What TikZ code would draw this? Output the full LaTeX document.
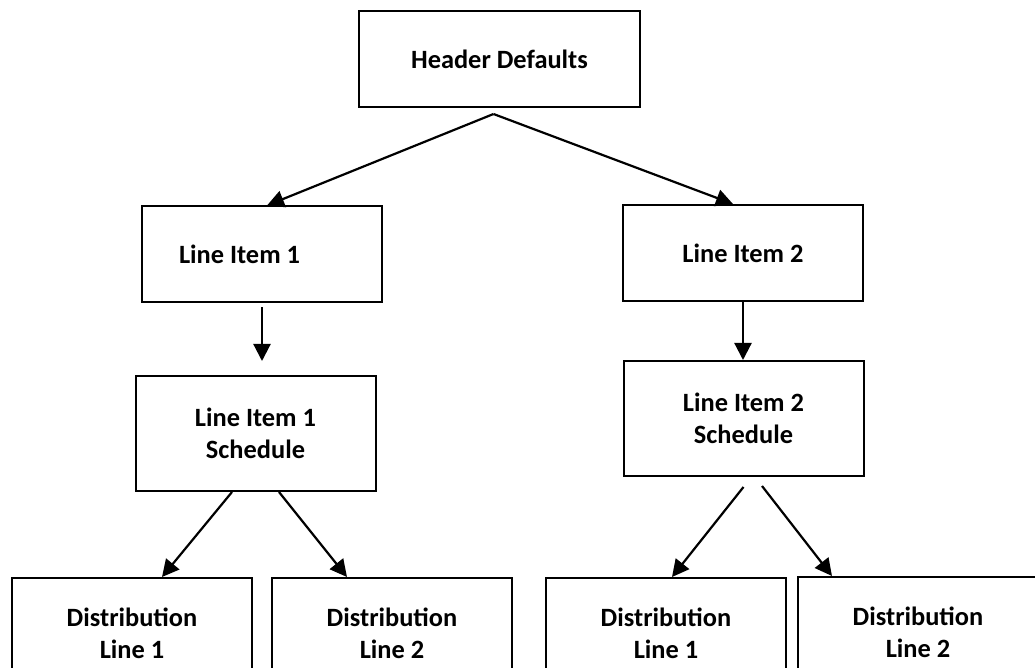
\documentclass[tikz,border=0pt]{standalone}
\usepackage{fontspec}
\setmainfont{Carlito}
\usepackage{tikz}
\usetikzlibrary{arrows.meta,calc}

\tikzset{
  itembox/.style={draw, line width=1pt, minimum width=120pt, minimum height=48pt,
    align=center, font=\fontsize{13.2}{16}\selectfont\bfseries},
  arr/.style={-{Triangle[length=8.5pt,width=8.5pt]}, line width=1.1pt}
}

\begin{document}
\begin{tikzpicture}[x=0.5pt, y=-0.5pt]
        \clip (0,0) rectangle (1035,668);

        \node[itembox, minimum width=140.5pt] (hdr) at (499.5,59) {Header Defaults};
        \node[itembox, text width=83pt, inner xsep=18.5pt, align=flush left] (li1) at (262,254.5) {Line Item 1};
        \node[itembox] (li2) at (743,253) {Line Item 2};
        \node[itembox, minimum height=57.5pt] (sch1) at (255.5,433.5) {Line Item 1\\Schedule};
        \node[itembox, minimum height=57.5pt] (sch2) at (743.5,418.5) {Line Item 2\\Schedule};

        \node[itembox, minimum height=55pt] (d11) at (132,633) {Distribution\\Line 1};
        \node[itembox, minimum height=55pt] (d12) at (392,633) {Distribution\\Line 2};
        \node[itembox, minimum height=55pt] (d21) at (666,633) {Distribution\\Line 1};
        \node[itembox, minimum height=55pt] (d22) at (918,632) {Distribution\\Line 2};

        \coordinate (split) at ($(hdr.south)+(-6,6)$);
        \draw[arr] (split) -- ($(li1.north)+(5,0)$);
        \draw[arr] (split) -- ($(li2.north)+(-10,0)$);

        \draw[arr, shorten <=2pt, shorten >=7pt] (li1.south) -- (li1.south |- sch1.north);
        \draw[arr] (li2.south) -- (li2.south |- sch2.north);

        \draw[arr] ($(sch1.south)+(-23.5,0)$) -- ($(d11.north)+(30,0)$);
        \draw[arr] ($(sch1.south)+(23.5,0)$) -- ($(d12.north)+(-45,0)$);
        \draw[arr] ($(sch2.south)+(0,10)$) -- ($(d21.north)+(6,0)$);
        \draw[arr] ($(sch2.south)+(18.5,9)$) -- ($(d22.north)+(-86,0)$);
    \end{tikzpicture}
\end{document}
